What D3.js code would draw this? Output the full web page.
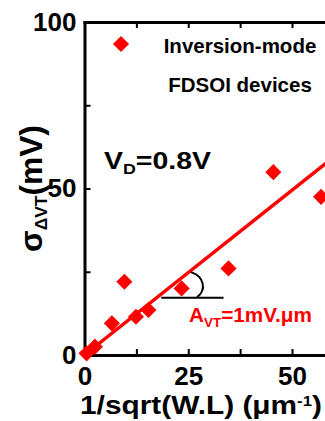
<!DOCTYPE html>
<html>
<head>
<meta charset="utf-8">
<script src="https://cdn.jsdelivr.net/npm/d3@7"></script>
<style>
  html, body { margin: 0; padding: 0; background: #fff; }
  svg { display: block; }
  text { font-family: Arial, "Liberation Sans", sans-serif; font-weight: bold; }
</style>
</head>
<body>
<svg id="chart" width="325" height="421"></svg>
<script>
// ---- data ----
const xValues = [0.5, 2.5, 6.6, 9.6, 12.4, 15.4, 23.4, 34.7, 45.5, 57.0];
const yValues = [0.5, 2.5, 9.5, 22.0, 11.5, 13.5, 20.0, 26.0, 54.9, 47.5];
const fitX = [0, 62];
const fitSlope = 0.99;                // A_VT = 1 mV.um
const xTicks = [0, 12.5, 25, 37.5, 50, 62.5];
const xTickLabels = [0, 25, 50];
const yTicks = [0, 25, 50, 75, 100];
const yTickLabels = [0, 50, 100];
const angleLine = [[18.5, 17.2], [33.5, 17.2]];
const angleArc = [[25.66, 24.9], [28.8, 23.7], [29.5, 19.5], [27.1, 17.4]];
const legendLines = ["Inversion-mode", "FDSOI devices"];

const svg = d3.select("#chart");
const red = "#ff0000";

const x = d3.scaleLinear().domain([0, 62.5]).range([84.5, 84.5 + 62.5 * 4.15]);
const y = d3.scaleLinear().domain([0, 100]).range([355, 22]);

// ---- axes ----
const gx = svg.append("g").attr("transform", `translate(0,${y(0)})`)
  .call(d3.axisBottom(x).tickValues(xTicks).tickSizeInner(-6).tickSizeOuter(0).tickPadding(12)
    .tickFormat(d => xTickLabels.includes(d) ? d : ""));
const gt = svg.append("g").attr("transform", `translate(0,${y(100)})`)
  .call(d3.axisTop(x).tickValues(xTicks).tickSizeInner(-6).tickSizeOuter(0).tickFormat(""));
const gy = svg.append("g").attr("transform", `translate(${x(0)},0)`)
  .call(d3.axisLeft(y).tickValues(yTicks).tickSizeInner(-6).tickSizeOuter(0).tickPadding(8)
    .tickFormat(d => yTickLabels.includes(d) ? d : ""));

[gx, gt, gy].forEach(g => {
  g.select(".domain").attr("stroke", "#000").attr("stroke-width", 3).attr("stroke-linecap", "square");
  g.selectAll(".tick line").attr("stroke", "#000").attr("stroke-width", 2);
  g.selectAll(".tick text").attr("fill", "#000").style("font-size", "26px")
    .style("font-family", 'Arial, "Liberation Sans", sans-serif').style("font-weight", "bold");
});

// ---- fit line ----
svg.append("line")
  .attr("x1", x(fitX[0])).attr("y1", y(fitX[0] * fitSlope))
  .attr("x2", x(fitX[1])).attr("y2", y(fitX[1] * fitSlope))
  .attr("stroke", red).attr("stroke-width", 3.5);

// ---- angle annotation ----
svg.append("line")
  .attr("x1", x(angleLine[0][0])).attr("y1", y(angleLine[0][1]))
  .attr("x2", x(angleLine[1][0])).attr("y2", y(angleLine[1][1]))
  .attr("stroke", "#000").attr("stroke-width", 2);
const a = angleArc.map(p => [x(p[0]), y(p[1])]);
svg.append("path")
  .attr("d", `M${a[0]}C${a[1]} ${a[2]} ${a[3]}`)
  .attr("fill", "none").attr("stroke", "#000").attr("stroke-width", 2);

// ---- points ----
const diamond = d3.symbol(d3.symbolSquare, 130);
svg.append("g").selectAll("path").data(xValues.map((v, i) => [v, yValues[i]]))
  .join("path")
  .attr("d", diamond)
  .attr("transform", d => `translate(${x(d[0])},${y(d[1])}) rotate(45)`)
  .attr("fill", red);

// ---- legend ----
svg.append("path").attr("d", diamond).attr("transform", "translate(121,44) rotate(45)").attr("fill", red);
svg.append("text").attr("x", 240).attr("y", 53).attr("text-anchor", "middle")
  .style("font-size", "20.5px").text(legendLines[0]);
svg.append("text").attr("x", 240).attr("y", 92).attr("text-anchor", "middle")
  .style("font-size", "20.5px").text(legendLines[1]);

// helper to stretch a text to measured width
function fit(g, t, w) {
  const bw = t.node().getBBox().width;
  return w / bw;
}

// ---- V_D label ----
{
  const g = svg.append("g");
  const t = g.append("text").style("font-size", "24px");
  t.append("tspan").text("V");
  t.append("tspan").style("font-size", "15px").attr("dy", 5).text("D");
  t.append("tspan").attr("dy", -5).text("=0.8V");
  const s = fit(g, t, 107);
  g.attr("transform", `translate(104,169) scale(${s},1)`);
}

// ---- A_VT label ----
{
  const g = svg.append("g");
  const t = g.append("text").style("font-size", "20px").attr("fill", red);
  t.append("tspan").text("A");
  t.append("tspan").style("font-size", "13px").attr("dy", 5).text("VT");
  t.append("tspan").attr("dy", -5).text("=1mV.μm");
  const s = fit(g, t, 123);
  g.attr("transform", `translate(189,322) scale(${s},1)`);
}

// ---- x title ----
{
  const g = svg.append("g");
  const t = g.append("text").style("font-size", "25px");
  t.append("tspan").text("1/sqrt(W.L) (μm");
  t.append("tspan").style("font-size", "14px").attr("dy", -8).text("-1");
  t.append("tspan").attr("dy", 8).text(")");
  const s = fit(g, t, 242);
  g.attr("transform", `translate(80,414) scale(${s},1)`);
}

// ---- y title ----
{
  const g = svg.append("g");
  const t = g.append("text").style("font-size", "31px");
  t.append("tspan").text("σ");
  t.append("tspan").style("font-size", "17px").attr("dy", 5).text("ΔVT");
  t.append("tspan").attr("dy", -5).text("(mV)");
  const s = fit(g, t, 127);
  g.attr("transform", `translate(41.5,252) rotate(-90) scale(${s},1)`);
}
</script>
</body>
</html>
